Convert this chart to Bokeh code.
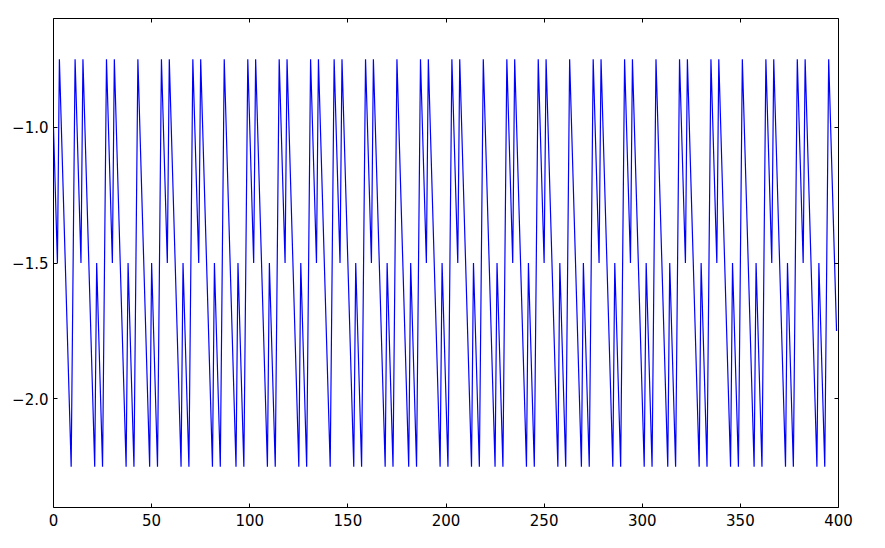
from bokeh.plotting import figure
from bokeh.models import LinearAxis, FixedTicker, CustomJSTickFormatter, Range1d
from bokeh.embed import file_html
from bokeh.resources import INLINE

# Turning points of the line (x, y)
turn_x = [0, 2, 3, 9, 11, 14, 15, 21, 22, 25, 27, 30, 31, 37, 38, 41, 43, 49, 50, 53,
          55, 58, 59, 65, 66, 69, 71, 74, 75, 81, 82, 85, 87, 93, 94, 97, 99, 102, 103, 109,
          110, 113, 115, 118, 119, 125, 126, 129, 131, 134, 135, 141, 143, 146, 147, 153, 154, 157, 159, 162,
          163, 169, 170, 173, 175, 181, 182, 185, 187, 190, 191, 197, 198, 201, 203, 206, 207, 213, 214, 217,
          219, 225, 226, 229, 231, 234, 235, 241, 242, 245, 247, 250, 251, 257, 258, 261, 263, 269, 270, 273,
          275, 278, 279, 285, 286, 289, 291, 294, 295, 301, 302, 305, 307, 313, 314, 317, 319, 322, 323, 329,
          330, 333, 335, 338, 339, 345, 346, 349, 351, 357, 358, 361, 363, 366, 367, 373, 374, 377, 379, 382,
          383, 389, 390, 393, 395, 399]
turn_y = [-1.0, -1.5, -0.75, -2.25, -0.75, -1.5, -0.75, -2.25, -1.5, -2.25, -0.75, -1.5, -0.75, -2.25, -1.5, -2.25, -0.75, -2.25, -1.5, -2.25,
          -0.75, -1.5, -0.75, -2.25, -1.5, -2.25, -0.75, -1.5, -0.75, -2.25, -1.5, -2.25, -0.75, -2.25, -1.5, -2.25, -0.75, -1.5, -0.75, -2.25,
          -1.5, -2.25, -0.75, -1.5, -0.75, -2.25, -1.5, -2.25, -0.75, -1.5, -0.75, -2.25, -0.75, -1.5, -0.75, -2.25, -1.5, -2.25, -0.75, -1.5,
          -0.75, -2.25, -1.5, -2.25, -0.75, -2.25, -1.5, -2.25, -0.75, -1.5, -0.75, -2.25, -1.5, -2.25, -0.75, -1.5, -0.75, -2.25, -1.5, -2.25,
          -0.75, -2.25, -1.5, -2.25, -0.75, -1.5, -0.75, -2.25, -1.5, -2.25, -0.75, -1.5, -0.75, -2.25, -1.5, -2.25, -0.75, -2.25, -1.5, -2.25,
          -0.75, -1.5, -0.75, -2.25, -1.5, -2.25, -0.75, -1.5, -0.75, -2.25, -1.5, -2.25, -0.75, -2.25, -1.5, -2.25, -0.75, -1.5, -0.75, -2.25,
          -1.5, -2.25, -0.75, -1.5, -0.75, -2.25, -1.5, -2.25, -0.75, -2.25, -1.5, -2.25, -0.75, -1.5, -0.75, -2.25, -1.5, -2.25, -0.75, -1.5,
          -0.75, -2.25, -1.5, -2.25, -0.75, -1.75]

x_ticks = [0, 50, 100, 150, 200, 250, 300, 350, 400]
y_ticks = [-2.0, -1.5, -1.0]

FONT = "DejaVu Sans"
FSIZE = "15px"

p = figure(width=885, height=548,
           x_range=Range1d(0, 400), y_range=Range1d(-2.4, -0.6),
           output_backend="svg", toolbar_location=None,
           min_border_left=53, min_border_right=47,
           min_border_top=18, min_border_bottom=41)

p.line(turn_x, turn_y, line_color="#0000ff", line_width=1.2)

p.xgrid.visible = False
p.ygrid.visible = False
p.background_fill_color = "white"
p.border_fill_color = "white"
p.outline_line_color = "black"
p.outline_line_width = 1
p.outline_line_alpha = 1.0

p.add_layout(LinearAxis(), "above")
p.add_layout(LinearAxis(), "right")

fmt = CustomJSTickFormatter(code="""
var s = tick.toFixed(1);
return s.replace('-', '\u2212');
""")

for ax in p.xaxis:
    ax.ticker = FixedTicker(ticks=x_ticks)
for ax in p.yaxis:
    ax.ticker = FixedTicker(ticks=y_ticks)

for ax in p.xaxis + p.yaxis:
    ax.axis_line_color = None
    ax.major_tick_in = 4
    ax.major_tick_out = 0
    ax.major_tick_line_color = "black"
    ax.major_tick_line_width = 1
    ax.minor_tick_line_color = None
    ax.major_label_text_font = FONT
    ax.major_label_text_font_size = FSIZE
    ax.major_label_text_color = "black"

p.below[0].formatter = CustomJSTickFormatter(code="return tick.toFixed(0);")
p.below[0].major_label_standoff = 6
p.left[0].formatter = fmt
p.left[0].major_label_standoff = 5

for ax in p.above + p.right:
    ax.major_label_text_color = None
    ax.major_label_text_font_size = "1px"
    ax.major_label_standoff = 0

open("out.html", "w").write(file_html(p, INLINE))
